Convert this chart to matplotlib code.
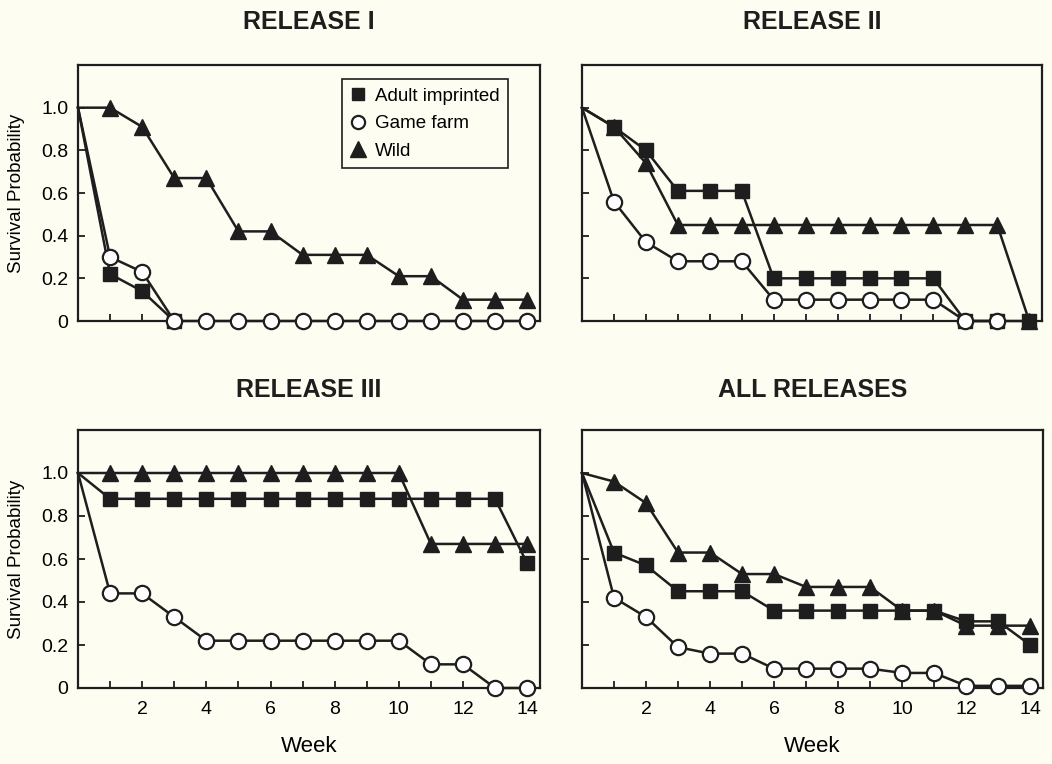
import matplotlib
matplotlib.use("Agg")
import matplotlib.pyplot as plt
from matplotlib.lines import Line2D
import numpy as np

plt.rcParams['font.family'] = ['Liberation Sans', 'DejaVu Sans']

# ---------------- data ----------------
weeks = list(range(15))
panel_titles = ["RELEASE I", "RELEASE II", "RELEASE III", "ALL RELEASES"]
series_names = ["Adult imprinted", "Game farm", "Wild"]
xtick_labels = ["2", "4", "6", "8", "10", "12", "14"]
ytick_labels = ["0", "0.2", "0.4", "0.6", "0.8", "1.0"]

# Release I
r1_adult = [1.0, 0.22, 0.14, 0.0]
r1_game = [1.0, 0.30, 0.23, 0, 0, 0, 0, 0, 0, 0, 0, 0, 0, 0, 0]
r1_wild = [1.0, 1.0, 0.91, 0.67, 0.67, 0.42, 0.42, 0.31, 0.31, 0.31, 0.21, 0.21, 0.10, 0.10, 0.10]

# Release II
r2_adult = [1.0, 0.91, 0.80, 0.61, 0.61, 0.61, 0.20, 0.20, 0.20, 0.20, 0.20, 0.20, 0, 0, 0]
r2_game = [1.0, 0.56, 0.37, 0.28, 0.28, 0.28, 0.10, 0.10, 0.10, 0.10, 0.10, 0.10, 0, 0]
r2_wild = [1.0, 0.91, 0.74, 0.45, 0.45, 0.45, 0.45, 0.45, 0.45, 0.45, 0.45, 0.45, 0.45, 0.45, 0]

# Release III
r3_adult = [1.0, 0.88, 0.88, 0.88, 0.88, 0.88, 0.88, 0.88, 0.88, 0.88, 0.88, 0.88, 0.88, 0.88, 0.58]
r3_game = [1.0, 0.44, 0.44, 0.33, 0.22, 0.22, 0.22, 0.22, 0.22, 0.22, 0.22, 0.11, 0.11, 0, 0]
r3_wild = [1.0, 1.0, 1.0, 1.0, 1.0, 1.0, 1.0, 1.0, 1.0, 1.0, 1.0, 0.67, 0.67, 0.67, 0.67]

# All releases
ra_adult = [1.0, 0.63, 0.57, 0.45, 0.45, 0.45, 0.36, 0.36, 0.36, 0.36, 0.36, 0.36, 0.31, 0.31, 0.20]
ra_game = [1.0, 0.42, 0.33, 0.19, 0.16, 0.16, 0.09, 0.09, 0.09, 0.09, 0.07, 0.07, 0.01, 0.01, 0.01]
ra_wild = [1.0, 0.96, 0.86, 0.63, 0.63, 0.53, 0.53, 0.47, 0.47, 0.47, 0.36, 0.36, 0.29, 0.29, 0.29]

panels = [
    (r1_adult, r1_game, r1_wild),
    (r2_adult, r2_game, r2_wild),
    (r3_adult, r3_game, r3_wild),
    (ra_adult, ra_game, ra_wild),
]

# ---------------- style ----------------
BG = "#fdfdf2"
INK = "#1e1e1e"
W, H = 1052, 764

fig = plt.figure(figsize=(W / 100, H / 100), dpi=100, facecolor=BG)

rects = [
    (78, 65, 540, 321),
    (582, 65, 1042, 321),
    (78, 430, 540, 688),
    (582, 430, 1043, 688),
]

marker_styles = [
    dict(marker="s", markersize=9.5, markerfacecolor=INK, markeredgecolor=INK, zorder=3),
    dict(marker="o", markersize=11, markerfacecolor="white", markeredgecolor=INK, markeredgewidth=1.6, zorder=4),
    dict(marker="^", markersize=11.5, markerfacecolor=INK, markeredgecolor=INK, zorder=5),
]

axes = []
for i, (l, t, r, b) in enumerate(rects):
    ax = fig.add_axes([l / W, 1 - b / H, (r - l) / W, (b - t) / H])
    ax.set_facecolor(BG)
    ax.set_xlim(0, 14.4)
    ax.set_ylim(0, 1.2)
    for sp in ax.spines.values():
        sp.set_linewidth(1.6)
        sp.set_color(INK)
    data = panels[i]
    for k, vals in enumerate(data):
        xs = weeks[:len(vals)]
        ax.plot(xs, vals, color=INK, linewidth=1.8, markevery=list(range(1, len(vals))),
                clip_on=False, **marker_styles[k])
    ax.set_xticks(weeks[1:])
    ax.set_yticks([0, 0.2, 0.4, 0.6, 0.8, 1.0])
    ax.tick_params(direction="in", length=5, width=1.3, color=INK, labelsize=14, pad=9)
    ax.tick_params(axis="y", pad=7)
    if i >= 2:
        ax.set_xticklabels([str(w) if w % 2 == 0 else "" for w in weeks[1:]])
        ax.set_xlabel("Week", fontsize=16, labelpad=13)
    else:
        ax.set_xticklabels([])
    if i % 2 == 0:
        ax.set_yticklabels(ytick_labels)
        ax.set_ylabel("Survival Probability", fontsize=13.5)
        ax.yaxis.set_label_coords(-0.115, 0.5)
    else:
        ax.set_yticklabels([])
    ax.set_title(panel_titles[i], fontsize=18, fontweight="bold", pad=26 if i < 2 else 24, color=INK)
    axes.append(ax)

handles = [
    Line2D([], [], linestyle="none", marker="s", markersize=8.5, markerfacecolor=INK, markeredgecolor=INK),
    Line2D([], [], linestyle="none", marker="o", markersize=9.5, markerfacecolor="white", markeredgecolor=INK, markeredgewidth=1.6),
    Line2D([], [], linestyle="none", marker="^", markersize=11, markerfacecolor=INK, markeredgecolor=INK),
]
leg = axes[0].legend(handles, series_names, loc="upper right", bbox_to_anchor=(0.931, 0.945),
                     fontsize=13.5, frameon=True, fancybox=False, handlelength=0.8,
                     handletextpad=0.5, borderpad=0.45, labelspacing=0.55, borderaxespad=0)
leg.get_frame().set_edgecolor(INK)
leg.get_frame().set_linewidth(1.2)
leg.get_frame().set_facecolor(BG)
leg.get_frame().set_alpha(1)
leg.set_zorder(10)

fig.savefig("out.png", dpi=100, facecolor=BG)
